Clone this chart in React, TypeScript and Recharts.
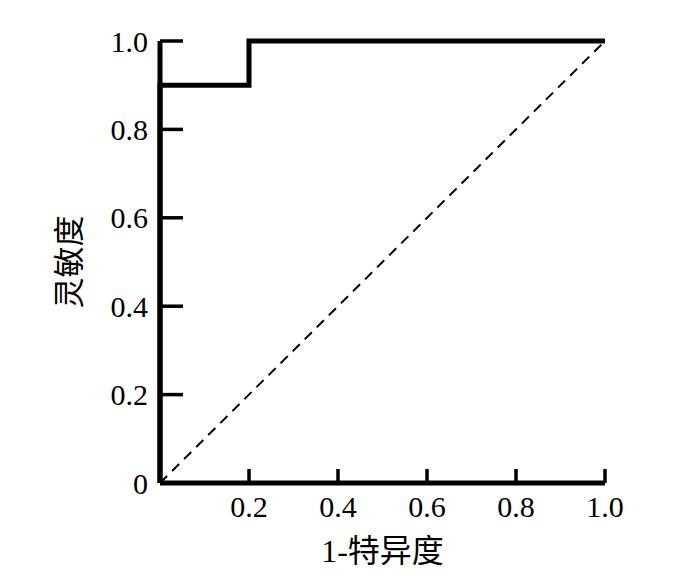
import React from 'react';
import { LineChart, Line, XAxis, YAxis, Label } from 'recharts';

// ROC points (1 - specificity, sensitivity)
const fpr = [0, 0, 0.2, 0.2, 1];
const tpr = [0, 0.9, 0.9, 1, 1];
const xTicks = [0.2, 0.4, 0.6, 0.8, 1.0];
const yTicks = [0, 0.2, 0.4, 0.6, 0.8, 1.0];
const xTitle = '1-特异度';
const yTitle = '灵敏度';

const rocData = fpr.map((x, i) => ({ x, y: tpr[i] }));
const diagData = [
  { x: 0, y: 0 },
  { x: 1, y: 1 },
];

const FONT = '"Liberation Serif", "Noto Sans CJK SC", serif';

const fmt = (v: number) => (v === 0 ? '0' : v.toFixed(1));

const YTick = (props: any) => {
  const { x, y, payload } = props;
  return (
    <g>
      <line x1={x} y1={y} x2={x + 23} y2={y} stroke="#000" strokeWidth={3.5} />
      <text x={x - 12} y={y} dy="0.35em" textAnchor="end" fontFamily={FONT} fontSize={30} fill="#000">
        {fmt(payload.value)}
      </text>
    </g>
  );
};

const XTick = (props: any) => {
  const { x, y, payload } = props;
  return (
    <g>
      <line x1={x} y1={y} x2={x} y2={y - 14} stroke="#000" strokeWidth={3.5} />
      <text x={x} y={y + 13} dy="0.71em" textAnchor="middle" fontFamily={FONT} fontSize={30} fill="#000">
        {fmt(payload.value)}
      </text>
    </g>
  );
};

export default function App() {
  return (
    <div style={{ width: 692, height: 578, background: '#fff' }}>
      <style>{'body{margin:0}'}</style>
      <LineChart width={692} height={578} margin={{ top: 41, right: 87, bottom: 0, left: 0 }}>
        <XAxis
          dataKey="x"
          type="number"
          domain={[0, 1]}
          ticks={xTicks}
          tick={<XTick />}
          tickLine={false}
          tickSize={0}
          tickMargin={0}
          height={95}
          axisLine={{ stroke: '#000', strokeWidth: 5 }}
        >
          <Label
            value={xTitle}
            position="insideBottom"
            offset={16}
            style={{ fontFamily: FONT, fontSize: 32, fill: '#000' }}
          />
        </XAxis>
        <YAxis
          dataKey="y"
          type="number"
          domain={[0, 1]}
          ticks={yTicks}
          tick={<YTick />}
          tickLine={false}
          tickSize={0}
          tickMargin={0}
          width={160}
          axisLine={{ stroke: '#000', strokeWidth: 5 }}
        >
          <Label
            value={yTitle}
            position="insideLeft"
            angle={-90}
            offset={69}
            style={{ fontFamily: FONT, fontSize: 31, fill: '#000', textAnchor: 'middle' }}
          />
        </YAxis>
        <Line
          data={diagData}
          dataKey="y"
          type="linear"
          stroke="#000"
          strokeWidth={2}
          strokeDasharray="10 7"
          dot={false}
          isAnimationActive={false}
        />
        <Line
          data={rocData}
          dataKey="y"
          type="linear"
          stroke="#000"
          strokeWidth={5}
          strokeLinejoin="miter"
          dot={false}
          isAnimationActive={false}
        />
      </LineChart>
    </div>
  );
}
